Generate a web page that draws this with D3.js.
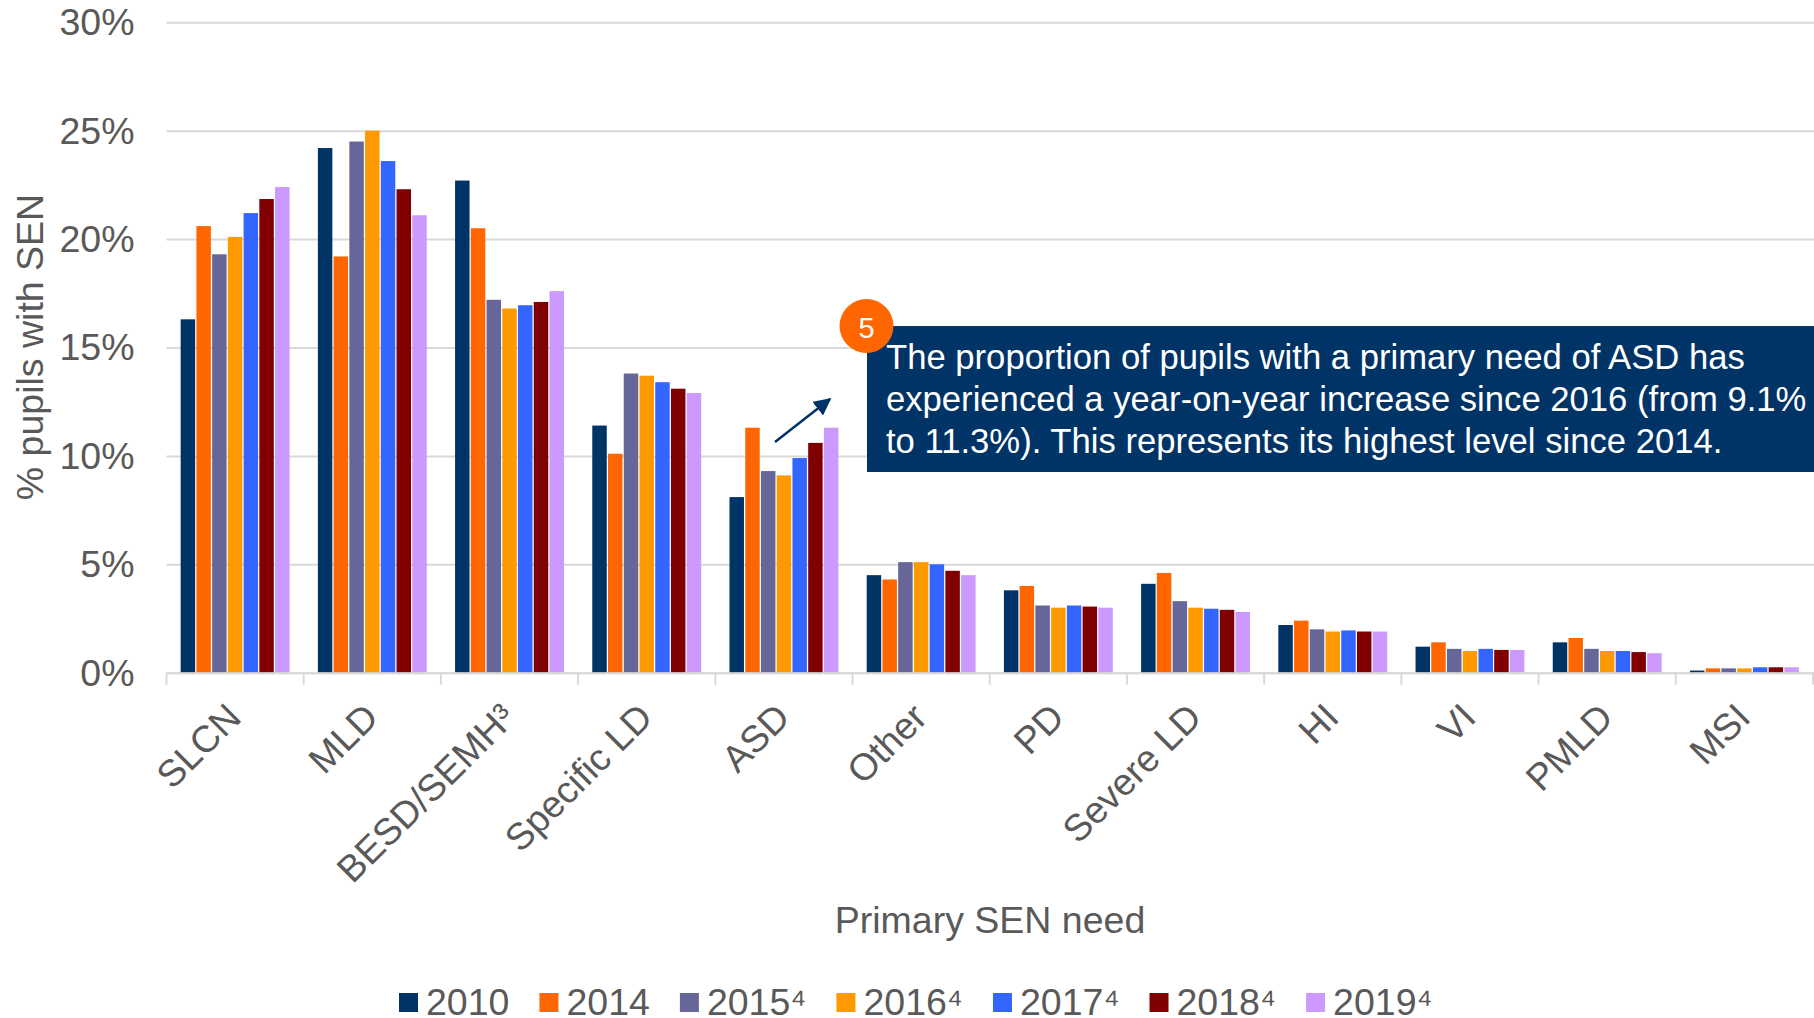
<!DOCTYPE html>
<html>
<head>
<meta charset="utf-8">
<script src="https://cdnjs.cloudflare.com/ajax/libs/d3/7.8.5/d3.min.js"></script>
<style>
  html, body { margin: 0; padding: 0; background: #fff; overflow: hidden; }
  text { font-family: "Liberation Sans", Arial, sans-serif; }
</style>
</head>
<body>
<div id="vis"></div>
<script>
const WIDTH = 1814;
const HEIGHT = 1018;
const MARGIN = { top: 22.3, left: 166.5, right: 1, bottom: 345.3 };
const FONT = "37.5px";

const categories = ["SLCN", "MLD", "BESD/SEMH³", "Specific LD", "ASD", "Other", "PD", "Severe LD", "HI", "VI", "PMLD", "MSI"];
const years = ["2010", "2014", "2015⁴", "2016⁴", "2017⁴", "2018⁴", "2019⁴"];
const colors = ["#003366", "#ff6600", "#666699", "#ff9900", "#3366ff", "#800000", "#cc99ff"];
const yTicks = [0, 5, 10, 15, 20, 25, 30];

const v2010 = [16.3, 24.2, 22.7, 11.4, 8.1, 4.5, 3.8, 4.1, 2.2, 1.2, 1.4, 0.1];
const v2014 = [20.6, 19.2, 20.5, 10.1, 11.3, 4.3, 4.0, 4.6, 2.4, 1.4, 1.6, 0.2];
const v2015 = [19.3, 24.5, 17.2, 13.8, 9.3, 5.1, 3.1, 3.3, 2.0, 1.1, 1.1, 0.2];
const v2016 = [20.1, 25.0, 16.8, 13.7, 9.1, 5.1, 3.0, 3.0, 1.9, 1.0, 1.0, 0.2];
const v2017 = [21.2, 23.6, 16.95, 13.4, 9.9, 5.0, 3.1, 2.95, 1.95, 1.1, 1.0, 0.25];
const v2018 = [21.85, 22.3, 17.1, 13.1, 10.6, 4.7, 3.05, 2.9, 1.9, 1.05, 0.95, 0.25];
const v2019 = [22.4, 21.1, 17.6, 12.9, 11.3, 4.5, 3.0, 2.8, 1.9, 1.05, 0.9, 0.25];
const series = [v2010, v2014, v2015, v2016, v2017, v2018, v2019];

const calloutLines = [
  "The proportion of pupils with a primary need of ASD has",
  "experienced a year-on-year increase since 2016 (from 9.1%",
  "to 11.3%). This represents its highest level since 2014."
];

const TEXT_GRAY = "#595959";
const GRID = "#d9d9d9";
const NAVY = "#003366";

const SVG = d3.select("#vis").append("svg")
  .attr("width", WIDTH)
  .attr("height", HEIGHT)
  .style("display", "block");

const x0 = d3.scaleBand()
  .domain(categories)
  .range([MARGIN.left, WIDTH - MARGIN.right]);

const x1 = d3.scaleBand()
  .domain(years)
  .range([0, x0.bandwidth()])
  .paddingInner(0.08)
  .paddingOuter(0.9);

const y = d3.scaleLinear()
  .domain([0, 30])
  .range([HEIGHT - MARGIN.bottom, MARGIN.top]);

// eje y con las grillas
const yAxis = SVG.append("g")
  .attr("transform", `translate(${MARGIN.left},0)`)
  .call(d3.axisLeft(y)
    .tickValues(yTicks)
    .tickSize(-(WIDTH - MARGIN.left))
    .tickPadding(32)
    .tickFormat(d => d + "%"));
yAxis.select(".domain").remove();
yAxis.selectAll("line").attr("stroke", GRID).attr("stroke-width", 2);
yAxis.selectAll("text")
  .attr("fill", TEXT_GRAY)
  .style("font-size", FONT)
  .attr("dy", "0.33em");

// barras
SVG.selectAll(".serie")
  .data(series)
  .join("g")
  .attr("class", "serie")
  .attr("fill", (d, i) => colors[i])
  .attr("transform", (d, i) => `translate(${x1(years[i])},0)`)
  .selectAll("rect")
  .data(d => d)
  .join("rect")
  .attr("x", (d, i) => x0(categories[i]))
  .attr("y", d => y(d))
  .attr("width", x1.bandwidth())
  .attr("height", d => y(0) - y(d));

// eje x
const xAxis = SVG.append("g")
  .attr("transform", `translate(0,${y(0)})`)
  .call(d3.axisBottom(x0).tickSize(0).tickPadding(0));
xAxis.select(".domain").attr("stroke", GRID).attr("stroke-width", 2);
xAxis.selectAll("text")
  .attr("fill", TEXT_GRAY)
  .style("font-size", FONT)
  .attr("text-anchor", "end")
  .attr("dy", 0)
  .attr("transform", "translate(8,47) rotate(-45)");

// las marcas van entre categorias
xAxis.selectAll(".edge")
  .data(categories.concat("end"))
  .join("line")
  .attr("class", "edge")
  .attr("x1", (d, i) => MARGIN.left + i * x0.step())
  .attr("x2", (d, i) => MARGIN.left + i * x0.step())
  .attr("y1", 0)
  .attr("y2", 12)
  .attr("stroke", GRID)
  .attr("stroke-width", 2);

// titulos
SVG.append("text")
  .attr("transform", "translate(43,347) rotate(-90)")
  .attr("text-anchor", "middle")
  .attr("fill", TEXT_GRAY)
  .style("font-size", FONT)
  .text("% pupils with SEN");

SVG.append("text")
  .attr("x", 990)
  .attr("y", 933)
  .attr("text-anchor", "middle")
  .attr("fill", TEXT_GRAY)
  .style("font-size", FONT)
  .text("Primary SEN need");

// leyenda
const legend = SVG.append("g");
let legendX = 399;
years.forEach((year, i) => {
  const item = legend.append("g").attr("transform", `translate(${legendX},0)`);
  item.append("rect")
    .attr("y", 993)
    .attr("width", 19)
    .attr("height", 19)
    .attr("fill", colors[i]);
  const label = item.append("text")
    .attr("x", 27)
    .attr("y", 1015)
    .attr("fill", TEXT_GRAY)
    .style("font-size", FONT)
    .text(year);
  legendX += 27 + label.node().getComputedTextLength() + 30;
});

// flecha
SVG.append("defs").append("marker")
  .attr("id", "punta")
  .attr("viewBox", "0 0 10 10")
  .attr("refX", 9)
  .attr("refY", 5)
  .attr("markerWidth", 7)
  .attr("markerHeight", 7)
  .attr("orient", "auto")
  .attr("markerUnits", "strokeWidth")
  .append("path")
  .attr("d", "M0,0 L10,5 L0,10 Z")
  .attr("fill", NAVY);

SVG.append("line")
  .attr("x1", 775)
  .attr("y1", 442)
  .attr("x2", 830)
  .attr("y2", 399)
  .attr("stroke", NAVY)
  .attr("stroke-width", 2.5)
  .attr("marker-end", "url(#punta)");

// recuadro
SVG.append("rect")
  .attr("x", 867)
  .attr("y", 326)
  .attr("width", WIDTH - 867)
  .attr("height", 146)
  .attr("fill", NAVY);

SVG.append("circle")
  .attr("cx", 866.5)
  .attr("cy", 326)
  .attr("r", 27)
  .attr("fill", "#ff6600");

SVG.append("text")
  .attr("x", 866.5)
  .attr("y", 338)
  .attr("text-anchor", "middle")
  .attr("fill", "#fff")
  .style("font-size", "29px")
  .text("5");

SVG.selectAll(".callout")
  .data(calloutLines)
  .join("text")
  .attr("class", "callout")
  .attr("x", 886)
  .attr("y", (d, i) => 369 + i * 42)
  .attr("fill", "#fff")
  .style("font-size", "34.65px")
  .text(d => d);
</script>
</body>
</html>
